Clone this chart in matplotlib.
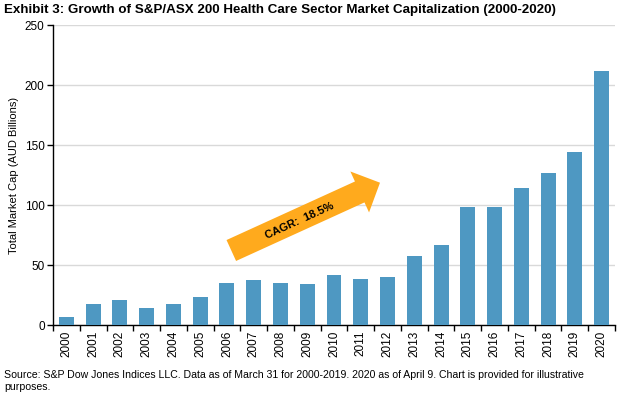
import numpy as np
import matplotlib
matplotlib.use("Agg")
import matplotlib.pyplot as plt
import matplotlib.patches as patches

# ===== data =====
years = [str(y) for y in range(2000, 2021)]
market_cap = [6.7, 17.5, 20.8, 14.2, 17.5, 23.3, 35.0, 37.5, 35.0, 34.2, 41.7,
              38.3, 40.0, 57.5, 66.7, 98.3, 98.3, 114.0, 126.7, 144.0, 211.7]
y_ticks = [0, 50, 100, 150, 200, 250]

title = "Exhibit 3: Growth of S&P/ASX 200 Health Care Sector Market Capitalization (2000-2020)"
y_label = "Total Market Cap (AUD Billions)"
source = ("Source: S&P Dow Jones Indices LLC. Data as of March 31 for 2000-2019. 2020 as of April 9. "
          "Chart is provided for illustrative\npurposes.")
cagr_text = "CAGR:  18.5%"

bar_color = "#4E98C2"
arrow_color = "#FFAA1D"

plt.rcParams["font.family"] = ["Liberation Sans", "DejaVu Sans"]

W, H = 624, 399
fig = plt.figure(figsize=(W / 100, H / 100), dpi=100)
ax = fig.add_axes([53 / W, (H - 325) / H, 562 / W, 300 / H])

x = np.arange(len(years))
ax.bar(x, market_cap, width=0.56, color=bar_color, zorder=3)

ax.set_xlim(-0.5, len(years) - 0.5)
ax.set_ylim(0, 250)
ax.set_yticks(y_ticks)
ax.yaxis.grid(True, color="#d9d9d9", linewidth=1.0, zorder=0)
ax.set_axisbelow(True)

# category labels centred on bars, tick marks between categories
ax.set_xticks(x)
ax.set_xticklabels(years, rotation=90, fontsize=8.5)
ax.tick_params(axis="x", which="major", length=0, pad=4)
ax.set_xticks(np.arange(-0.5, len(years)), minor=True)
ax.tick_params(axis="x", which="minor", length=4, width=1, direction="out")
ax.tick_params(axis="y", length=4, width=1, direction="out", labelsize=8.5, pad=2)

for s in ["top", "right"]:
    ax.spines[s].set_visible(False)
for s in ["left", "bottom"]:
    ax.spines[s].set_color("black")
    ax.spines[s].set_linewidth(1.0)

ax.set_ylabel(y_label, fontsize=8, labelpad=4)

# ===== title / source =====
fig.text(4 / W, 1 - 10 / H, title, fontsize=9.6, fontweight="bold", ha="left", va="center")
fig.text(4 / W, 1 - 381 / H, source, fontsize=7.6, ha="left", va="center", linespacing=1.3)

# ===== CAGR arrow (figure inches) =====
tail = (231.3 / 100, (H - 250.5) / 100)
tip = (380 / 100, (H - 182.7) / 100)
dx, dy = tip[0] - tail[0], tip[1] - tail[1]
arrow = patches.FancyArrow(tail[0], tail[1], dx, dy, width=0.23, head_width=0.45,
                           head_length=0.223, length_includes_head=True,
                           color=arrow_color, linewidth=0, transform=fig.dpi_scale_trans)
fig.add_artist(arrow)
angle = np.degrees(np.arctan2(dy, dx))
fig.text(3.00, (H - 221) / 100, cagr_text, fontsize=8, fontweight="bold", rotation=angle,
         rotation_mode="anchor", ha="center", va="center", transform=fig.dpi_scale_trans)

fig.savefig("out.png", dpi=100)
